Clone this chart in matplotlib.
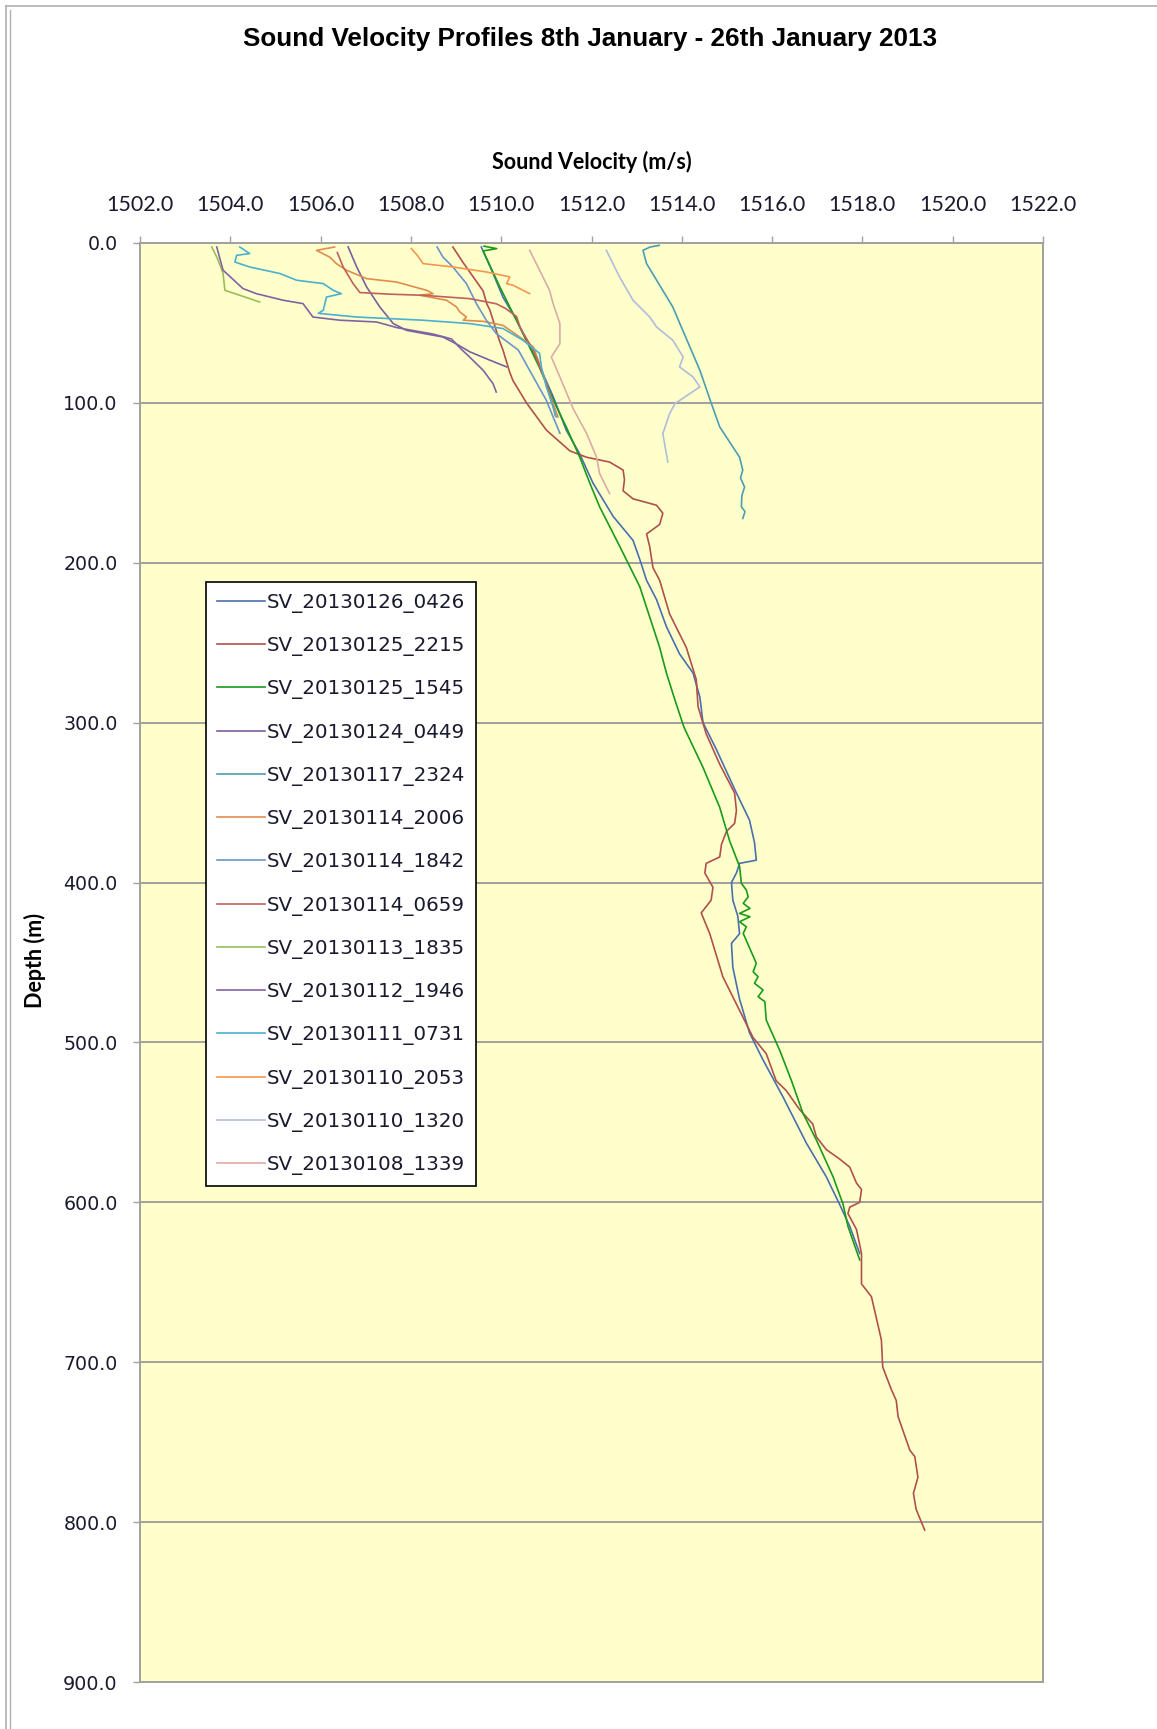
import numpy as np
import matplotlib
matplotlib.use("Agg")
import matplotlib.pyplot as plt
from matplotlib.lines import Line2D
from matplotlib.ticker import FormatStrFormatter

# ---- profile data: depth (m) and sound velocity (m/s) ----
sv_0426_depth = [2.5, 19, 34, 48, 61, 77, 96, 117, 132, 150, 171, 186, 198, 211, 223, 240,
                 257, 269, 284, 300, 317, 344, 361, 375, 386, 388, 394, 400, 411, 421, 432,
                 438, 453, 473, 494, 511, 534, 563, 584, 601, 615, 632]
sv_0426_vel = [1509.56, 1509.82, 1510.04, 1510.34, 1510.56, 1510.85, 1511.15, 1511.44, 1511.74,
               1512.03, 1512.48, 1512.92, 1513.07, 1513.22, 1513.44, 1513.66, 1513.95, 1514.25,
               1514.40, 1514.47, 1514.77, 1515.21, 1515.50, 1515.61, 1515.65, 1515.28, 1515.21,
               1515.10, 1515.13, 1515.24, 1515.28, 1515.10, 1515.13, 1515.28, 1515.50, 1515.80,
               1516.24, 1516.76, 1517.20, 1517.49, 1517.72, 1517.94]

sv_2215_depth = [2.5, 12, 30, 38, 42, 61, 67, 81, 86, 100, 117, 130, 134, 137, 142, 148, 155,
                 160, 164, 169, 176, 182, 190, 203, 211, 232, 253, 273, 290, 307, 326, 344,
                 355, 363, 368, 376, 384, 388, 394, 403, 411, 419, 432, 459, 480, 497, 507,
                 524, 530, 542, 551, 559, 567, 573, 578, 588, 592, 600, 603, 607, 617, 632,
                 651, 659, 686, 703, 717, 724, 734, 755, 759, 772, 782, 792, 805]
sv_2215_vel = [1508.93, 1509.15, 1509.60, 1509.68, 1509.75, 1509.96, 1510.04, 1510.19, 1510.26,
               1510.56, 1511.00, 1511.52, 1511.89, 1512.40, 1512.70, 1512.73, 1512.70, 1512.92,
               1513.44, 1513.58, 1513.51, 1513.22, 1513.29, 1513.36, 1513.51, 1513.73, 1514.10,
               1514.32, 1514.36, 1514.54, 1514.84, 1515.17, 1515.21, 1515.17, 1514.99, 1514.88,
               1514.84, 1514.54, 1514.51, 1514.69, 1514.65, 1514.43, 1514.62, 1514.91, 1515.28,
               1515.58, 1515.87, 1516.09, 1516.31, 1516.61, 1516.90, 1516.98, 1517.20, 1517.50,
               1517.72, 1517.87, 1517.98, 1517.94, 1517.72, 1517.68, 1517.87, 1517.98, 1517.98,
               1518.20, 1518.42, 1518.45, 1518.64, 1518.75, 1518.79, 1519.05, 1519.16, 1519.23,
               1519.13, 1519.19, 1519.38]

sv_1545_depth = [2, 3.5, 5, 27.5, 44, 61, 78, 98, 115, 134, 150, 165, 190, 215, 253, 269, 286,
                 303, 328, 353, 374, 390, 400.5, 404.7, 408.9, 413, 416.2, 419.3, 421.4, 424.5,
                 427.7, 431.8, 450.5, 455.8, 458.9, 463, 467.2, 471.4, 474.5, 486, 505, 524,
                 544, 561, 584, 601, 615, 636]
sv_1545_vel = [1509.62, 1509.90, 1509.60, 1509.97, 1510.26, 1510.56, 1510.85, 1511.15, 1511.44,
               1511.74, 1511.96, 1512.18, 1512.63, 1513.07, 1513.51, 1513.66, 1513.85, 1514.05,
               1514.47, 1514.84, 1515.06, 1515.28, 1515.32, 1515.43, 1515.47, 1515.36, 1515.51,
               1515.28, 1515.51, 1515.28, 1515.43, 1515.36, 1515.65, 1515.58, 1515.69, 1515.61,
               1515.80, 1515.69, 1515.84, 1515.87, 1516.17, 1516.43, 1516.68, 1516.98, 1517.35,
               1517.57, 1517.68, 1517.94]

sv_0449_depth = [2.5, 15, 27.5, 40, 50.4, 54.6, 58.8, 63, 68, 73.3, 77.5]
sv_0449_vel = [1506.61, 1506.80, 1507.02, 1507.31, 1507.61, 1507.90, 1508.71, 1509.00, 1509.30,
               1509.75, 1510.12]

sv_2324_depth = [1.5, 2.5, 4.6, 12.9, 40, 79.6, 100, 115, 134, 142, 147, 152.6, 158, 165, 168, 172.3]
sv_2324_vel = [1513.50, 1513.30, 1513.14, 1513.22, 1513.80, 1514.40, 1514.65, 1514.84, 1515.28,
               1515.35, 1515.30, 1515.39, 1515.33, 1515.32, 1515.40, 1515.35]

sv_2006_depth = [2.5, 4.6, 8.8, 12.9, 17, 22.3, 24.4, 29.6, 31.7, 32.7, 35.8, 40, 43, 46.3,
                 48.3, 49, 51.5, 58.8, 65, 73.3, 88, 100.4, 108.8]
sv_2006_vel = [1506.31, 1505.91, 1506.20, 1506.35, 1506.57, 1507.02, 1507.68, 1508.35, 1508.49,
               1508.20, 1508.79, 1509.01, 1509.08, 1509.23, 1509.16, 1509.60, 1510.04, 1510.41,
               1510.71, 1510.82, 1511.00, 1511.15, 1511.26]

sv_1842_depth = [2.5, 8.8, 15, 25.4, 37.9, 48.3, 56.6, 67, 81.7, 98.4, 108.8, 119]
sv_1842_vel = [1508.58, 1508.71, 1508.93, 1509.23, 1509.45, 1509.67, 1509.89, 1510.38, 1510.67,
               1511.00, 1511.15, 1511.30]

sv_0659_depth = [6, 15, 25.4, 31, 32, 32.7, 34.8, 38, 41, 46, 53, 67, 88, 102.5, 108]
sv_0659_vel = [1506.37, 1506.50, 1506.72, 1506.87, 1507.53, 1508.27, 1509.30, 1509.89, 1510.10,
               1510.34, 1510.42, 1510.71, 1511.00, 1511.15, 1511.20]

sv_1835_depth = [2.5, 10, 19, 29.6, 32.7, 36.9]
sv_1835_vel = [1503.59, 1503.72, 1503.84, 1503.88, 1504.21, 1504.65]

sv_1946_depth = [2.5, 17, 28.5, 31.7, 35.8, 37.9, 46.3, 48.3, 49.4, 53, 57, 60, 66, 71.3, 79.6,
                 88, 93.2]
sv_1946_vel = [1503.70, 1503.84, 1504.28, 1504.58, 1505.17, 1505.61, 1505.83, 1506.43, 1507.24,
               1507.70, 1508.50, 1508.90, 1509.10, 1509.30, 1509.60, 1509.82, 1509.89]

sv_0731_depth = [2.5, 6.6, 7.7, 11.9, 15, 19.1, 23.3, 25.4, 29.6, 31.7, 33.8, 42, 44, 46.3, 48.3,
                 50.4, 53.5, 60.8, 69, 77.5, 90, 102.5, 108.8]
sv_0731_vel = [1504.21, 1504.43, 1504.14, 1504.10, 1504.43, 1505.10, 1505.47, 1506.06, 1506.28,
               1506.46, 1506.13, 1506.06, 1505.95, 1506.80, 1508.27, 1509.30, 1510.04, 1510.48,
               1510.85, 1510.89, 1511.00, 1511.15, 1511.22]

sv_2053_depth = [3.5, 8, 12.9, 15, 18.1, 21.2, 25.4, 26.4, 31.7]
sv_2053_vel = [1508.01, 1508.15, 1508.27, 1508.93, 1509.67, 1510.19, 1510.12, 1510.26, 1510.63]

sv_1320_depth = [4.6, 21.2, 35.8, 46.3, 52.5, 60.8, 71.3, 77.5, 83.8, 90, 100.4, 106.7, 119.2, 137]
sv_1320_vel = [1512.33, 1512.62, 1512.92, 1513.29, 1513.44, 1513.80, 1514.03, 1513.95, 1514.25,
               1514.40, 1513.85, 1513.73, 1513.58, 1513.69]

sv_1339_depth = [4.6, 17, 29.6, 38, 50.4, 63, 71.3, 83.8, 104, 119, 133.8, 144.2, 156.7]
sv_1339_vel = [1510.63, 1510.85, 1511.07, 1511.15, 1511.30, 1511.30, 1511.11, 1511.30, 1511.60,
               1511.89, 1512.11, 1512.18, 1512.40]

labels = ["SV_20130126_0426", "SV_20130125_2215", "SV_20130125_1545", "SV_20130124_0449",
          "SV_20130117_2324", "SV_20130114_2006", "SV_20130114_1842", "SV_20130114_0659",
          "SV_20130113_1835", "SV_20130112_1946", "SV_20130111_0731", "SV_20130110_2053",
          "SV_20130110_1320", "SV_20130108_1339"]
colors = ["#4a6fae", "#b0504c", "#1a9a1a", "#7a5fa0", "#4c9cb4", "#e08c4c", "#6a94cc",
          "#c0605c", "#9cbb5c", "#8064a2", "#4bb0d0", "#f7964a", "#b0bcdc", "#dcaaa8"]
profiles = [(sv_0426_vel, sv_0426_depth), (sv_2215_vel, sv_2215_depth),
            (sv_1545_vel, sv_1545_depth), (sv_0449_vel, sv_0449_depth),
            (sv_2324_vel, sv_2324_depth), (sv_2006_vel, sv_2006_depth),
            (sv_1842_vel, sv_1842_depth), (sv_0659_vel, sv_0659_depth),
            (sv_1835_vel, sv_1835_depth), (sv_1946_vel, sv_1946_depth),
            (sv_0731_vel, sv_0731_depth), (sv_2053_vel, sv_2053_depth),
            (sv_1320_vel, sv_1320_depth), (sv_1339_vel, sv_1339_depth)]

W, H = 1157, 1729
fig = plt.figure(figsize=(W / 100, H / 100), dpi=100)

# plot area in pixel coords of the reference
ax = fig.add_axes([140 / W, 1 - 1682 / H, 903 / W, 1439 / H])
ax.set_facecolor("#ffffcc")

for (vel, depth), label, color in zip(profiles, labels, colors):
    ax.plot(vel, depth, color=color, lw=1.2, label=label)

ax.set_xlim(1502, 1522)
ax.set_ylim(900, 0)
ax.set_xticks(np.arange(1502, 1523, 2))
ax.set_yticks(np.arange(0, 901, 100))
ax.xaxis.set_major_formatter(FormatStrFormatter("%.1f"))
ax.yaxis.set_major_formatter(FormatStrFormatter("%.1f"))
ax.xaxis.tick_top()

grey = "#a0a0a0"
ax.grid(axis="y", color=grey, lw=1.4)
ax.set_axisbelow(True)
for s in ax.spines.values():
    s.set_color(grey)
    s.set_linewidth(1.4)

ax.tick_params(axis="x", direction="out", length=5, width=1, color=grey, pad=15,
               labelsize=15.5, labelcolor="#1a1a2e")
ax.tick_params(axis="y", direction="out", length=5, width=1, color=grey, pad=11,
               labelsize=13.7, labelcolor="#1a1a2e")
plt.setp(ax.get_xticklabels(), family="Lato")
plt.setp(ax.get_yticklabels(), family="DejaVu Sans")

leg = ax.legend(loc="upper left", bbox_to_anchor=((206 - 140) / 903, (1682 - 582) / 1439),
                borderaxespad=0, fancybox=False, framealpha=1, edgecolor="black",
                prop={"family": "DejaVu Sans", "size": 14.3}, handlelength=2.4,
                handletextpad=0.12, labelspacing=1.17, borderpad=0.55)
leg.get_frame().set_linewidth(1.2)
for t in leg.get_texts():
    t.set_color("#1a1a2e")

fig.text(590 / W, 1 - 38.6 / H, "Sound Velocity Profiles 8th January - 26th January 2013",
         ha="center", va="center", fontsize=18.8, fontweight="bold",
         family=["Liberation Sans Narrow", "Liberation Sans"])
fig.text(592 / W, 1 - 162 / H, "Sound Velocity (m/s)", ha="center", va="center",
         fontsize=15.5, fontweight="bold", family="Lato")
fig.text(35 / W, 1 - 960 / H, "Depth (m)", ha="center", va="center", rotation=90,
         fontsize=15.5, fontweight="bold", family="Lato")

# chart frame like the spreadsheet export
fig.add_artist(Line2D([6 / W, 6 / W], [0, 1 - 6 / H], color="#b0b0b0", lw=1.2))
fig.add_artist(Line2D([10 / W, 10 / W], [0, 1 - 10 / H], color="#b0b0b0", lw=1.0))
fig.add_artist(Line2D([6 / W, 1], [1 - 6 / H, 1 - 6 / H], color="#b0b0b0", lw=1.2))

fig.savefig("out.png", dpi=100)
